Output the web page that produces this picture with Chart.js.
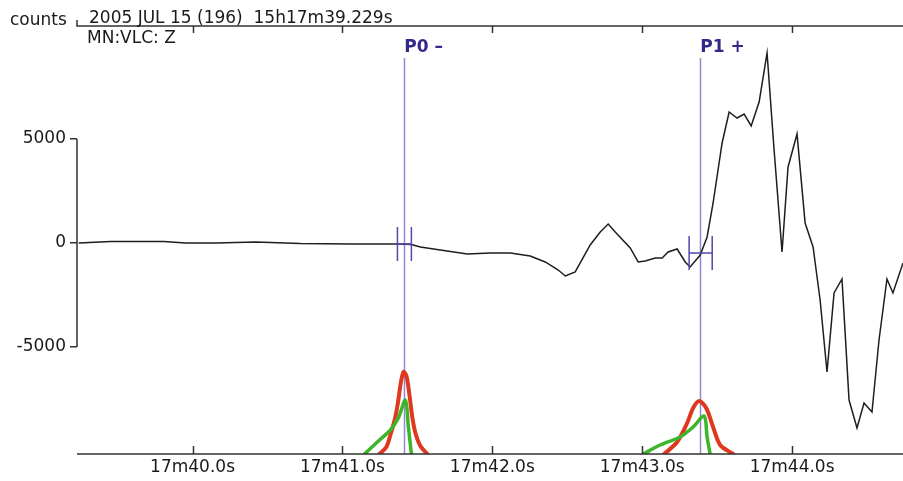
<!DOCTYPE html>
<html>
<head>
<meta charset="utf-8">
<script src="https://cdn.jsdelivr.net/npm/chart.js@4.4.1/dist/chart.umd.min.js"></script>
<style>
  html, body { margin: 0; padding: 0; background: #fff; }
  #wrap { width: 903px; height: 481px; }
</style>
</head>
<body>
<div id="wrap"><canvas id="seis" width="903" height="481"></canvas></div>
<script>
// seconds after 15h17m, counts
const waveTimes = [39.24, 39.453, 39.807, 39.953, 40.153, 40.42, 40.72, 41.053, 41.367, 41.46,
  41.52, 41.653, 41.833, 41.987, 42.12, 42.253, 42.353, 42.44, 42.487, 42.553,
  42.653, 42.72, 42.773, 42.82, 42.92, 42.973, 43.02, 43.087, 43.133, 43.173,
  43.233, 43.287, 43.32, 43.387, 43.433, 43.473, 43.533, 43.58, 43.633, 43.68,
  43.727, 43.78, 43.833, 43.88, 43.933, 43.973, 44.033, 44.087, 44.14, 44.187,
  44.233, 44.28, 44.333, 44.38, 44.433, 44.48, 44.533, 44.58, 44.633, 44.673, 44.74];
const waveCounts = [0, 72, 72, 0, 0, 48, -24, -48, -48, -72,
  -192, -337, -529, -481, -481, -625, -913, -1298, -1587, -1394,
  -96, 529, 913, 529, -240, -913, -865, -721, -721, -433,
  -288, -913, -1154, -577, 288, 1923, 4808, 6298, 6010, 6202,
  5625, 6779, 9135, 4471, -433, 3654, 5241, 962, -192, -2741,
  -6202, -2404, -1731, -7549, -8895, -7693, -8126, -4664, -1731, -2404, -962];

// pick probability curves (drawn on the count scale)
const redP0Times = [41.247, 41.293, 41.32, 41.353, 41.373, 41.387, 41.407, 41.427, 41.447, 41.467, 41.487, 41.52, 41.567];
const redP0Counts = [-10145, -9808, -9231, -8366, -7549, -6827, -6202, -6394, -7308, -8414, -9135, -9760, -10145];
const greenP0Times = [41.147, 41.233, 41.32, 41.373, 41.42, 41.44, 41.46];
const greenP0Counts = [-10145, -9568, -8991, -8414, -7549, -8847, -10145];
const redP1Times = [43.147, 43.233, 43.3, 43.34, 43.38, 43.427, 43.473, 43.52, 43.607];
const redP1Counts = [-10145, -9568, -8654, -7933, -7597, -7933, -8847, -9712, -10145];
const greenP1Times = [43.007, 43.12, 43.253, 43.34, 43.413, 43.433, 43.453];
const greenP1Counts = [-10145, -9712, -9327, -8847, -8318, -9327, -10145];

// picks
const pickNames = ["P0 \u2013", "P1 +"];
const pickTimes = [41.413, 43.387];
const pickErrLow = [41.367, 43.313];
const pickErrHigh = [41.46, 43.467];
const pickAmps = [-48, -481];
const pickErrHalf = 817;
const pickLineTop = 8900;

const tickSeconds = [40, 41, 42, 43, 44];
const countTicks = [-5000, 0, 5000];
const timeMin = 39.229, timeMax = 44.74;
const countMin = -10145, countMax = 10433;

const headerTitle = "2005 JUL 15 (196)  15h17m39.229s";
const headerStation = "MN:VLC: Z";
const unitLabel = "counts";

const FONT = "'DejaVu Sans', Verdana, sans-serif";
const AXIS_COLOR = "#333";
const PICK_LINE = "#8f87d0";
const PICK_DARK = "#5248aa";
const PICK_TEXT = "#34288a";

function pts(xs, ys) {
  return xs.map((x, i) => ({ x: x, y: ys[i] }));
}

function curve(xs, ys, color, w) {
  return {
    data: pts(xs, ys),
    borderColor: color,
    borderWidth: w,
    pointRadius: 0,
    tension: 0.3,
    borderCapStyle: "round",
    borderJoinStyle: "round",
    fill: false,
  };
}

const seisDecor = {
  id: "seisDecor",
  beforeDatasetsDraw(chart) {
    const ctx = chart.ctx;
    const xs = chart.scales.x, ys = chart.scales.y;
    ctx.save();
    ctx.strokeStyle = PICK_LINE;
    ctx.lineWidth = 1.5;
    pickTimes.forEach((t) => {
      const px = Math.round(xs.getPixelForValue(t)) + 0.5;
      ctx.beginPath();
      ctx.moveTo(px, ys.getPixelForValue(pickLineTop));
      ctx.lineTo(px, chart.chartArea.bottom);
      ctx.stroke();
    });
    ctx.restore();
  },
  afterDatasetsDraw(chart) {
    const ctx = chart.ctx;
    const xs = chart.scales.x, ys = chart.scales.y;
    const area = chart.chartArea;
    ctx.save();

    // error bars on picks
    ctx.strokeStyle = PICK_DARK;
    ctx.lineWidth = 1.5;
    pickTimes.forEach((t, i) => {
      const x1 = xs.getPixelForValue(pickErrLow[i]);
      const x2 = xs.getPixelForValue(pickErrHigh[i]);
      const yc = ys.getPixelForValue(pickAmps[i]);
      const yt = ys.getPixelForValue(pickAmps[i] + pickErrHalf);
      const yb = ys.getPixelForValue(pickAmps[i] - pickErrHalf);
      ctx.beginPath();
      ctx.moveTo(x1, yt); ctx.lineTo(x1, yb);
      ctx.moveTo(x2, yt); ctx.lineTo(x2, yb);
      ctx.moveTo(x1, yc); ctx.lineTo(x2, yc);
      ctx.stroke();
    });

    // pick labels
    ctx.fillStyle = PICK_TEXT;
    ctx.font = "bold 17px " + FONT;
    ctx.textBaseline = "alphabetic";
    ctx.textAlign = "left";
    pickTimes.forEach((t, i) => {
      const px = xs.getPixelForValue(t);
      ctx.fillText(pickNames[i], px, ys.getPixelForValue(pickLineTop) - 6);
    });

    // frame: top line, bottom line, y range line
    ctx.strokeStyle = AXIS_COLOR;
    ctx.lineWidth = 1.5;
    ctx.beginPath();
    ctx.moveTo(area.left, area.top - 6);
    ctx.lineTo(area.left, area.top);
    ctx.lineTo(area.right, area.top);
    ctx.moveTo(area.left, area.bottom);
    ctx.lineTo(area.right, area.bottom);
    ctx.moveTo(area.left, ys.getPixelForValue(countTicks[countTicks.length - 1]));
    ctx.lineTo(area.left, ys.getPixelForValue(countTicks[0]));
    tickSeconds.forEach((s) => {
      const px = Math.round(xs.getPixelForValue(s)) + 0.5;
      ctx.moveTo(px, area.top);
      ctx.lineTo(px, area.top + 7);
      ctx.moveTo(px, area.bottom);
      ctx.lineTo(px, area.bottom - 8);
    });
    ctx.stroke();

    // header texts
    ctx.fillStyle = "#1a1a1a";
    ctx.font = "17px " + FONT;
    ctx.fillText(unitLabel, 10, 25);
    ctx.fillText(headerTitle, 89, 23);
    ctx.fillText(headerStation, 87, 43);
    ctx.restore();
  },
};

new Chart(document.getElementById("seis"), {
  type: "line",
  data: {
    datasets: [
      {
        data: pts(waveTimes, waveCounts),
        borderColor: "#1e1e1e",
        borderWidth: 1.5,
        pointRadius: 0,
        tension: 0,
        fill: false,
      },
      curve(greenP0Times, greenP0Counts, "#3db52a", 3.5),
      curve(redP0Times, redP0Counts, "#e0381e", 4),
      curve(greenP1Times, greenP1Counts, "#3db52a", 3.5),
      curve(redP1Times, redP1Counts, "#e0381e", 4),
    ],
  },
  options: {
    responsive: false,
    animation: false,
    devicePixelRatio: 1,
    layout: { padding: { top: 26, left: 0, right: 0, bottom: 0 } },
    plugins: { legend: { display: false }, tooltip: { enabled: false } },
    scales: {
      x: {
        type: "linear",
        min: timeMin,
        max: timeMax,
        afterBuildTicks: (s) => { s.ticks = tickSeconds.map((v) => ({ value: v })); },
        afterFit: (s) => { s.height = 27; },
        border: { display: false },
        grid: { display: false, drawTicks: false },
        ticks: {
          color: "#1a1a1a",
          font: { family: FONT, size: 17 },
          padding: 3,
          maxRotation: 0,
          callback: (v) => "17m" + Number(v).toFixed(1) + "s",
        },
      },
      y: {
        type: "linear",
        min: countMin,
        max: countMax,
        afterBuildTicks: (s) => { s.ticks = countTicks.map((v) => ({ value: v })); },
        afterFit: (s) => { s.width = 77; },
        border: { display: false },
        grid: {
          drawOnChartArea: false,
          drawTicks: true,
          tickLength: 7,
          color: AXIS_COLOR,
          lineWidth: 1.5,
        },
        ticks: {
          color: "#1a1a1a",
          font: { family: FONT, size: 17 },
          padding: 4,
          callback: (v) => String(v),
        },
      },
    },
  },
  plugins: [seisDecor],
});
</script>
</body>
</html>
